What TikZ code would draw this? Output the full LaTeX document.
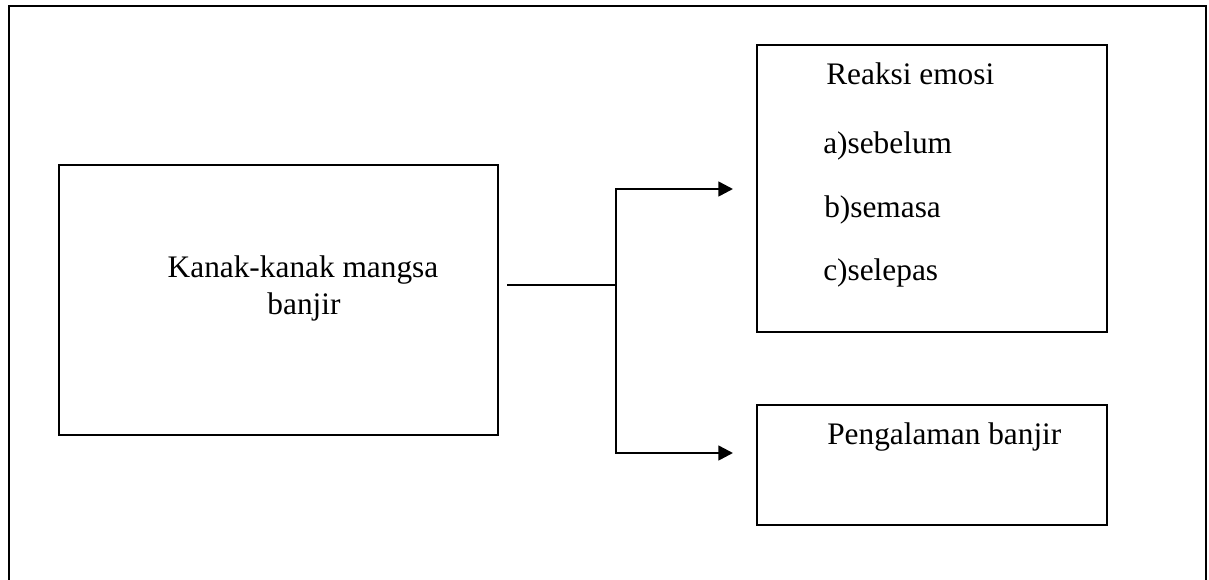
\documentclass[tikz,border=0pt]{standalone}
\usepackage{fontspec}
\setmainfont{Liberation Serif}
\usetikzlibrary{arrows.meta}
\begin{document}
\begin{tikzpicture}[x=0.75pt,y=-0.75pt,
  box/.style={draw,line width=1.5pt,inner sep=0pt,anchor=center},
  lbl/.style={inner sep=0pt,font=\fontsize{23.5}{28}\selectfont},
  conn/.style={line width=1.9pt},
  arr/.style={conn,-{Triangle[length=11pt,width=11pt]}}]
\useasboundingbox (0,0) rectangle (1209,579);
% outer frame (bottom edge lies outside the picture)
\draw[line width=1.5pt] (9,590) -- (9,6) -- (1206,6) -- (1206,590);
% boxes
\node[box,minimum width={439*0.75pt},minimum height={270*0.75pt}] (left) at (278.5,300) {};
\node[box,minimum width={350*0.75pt},minimum height={287*0.75pt}] (top) at (932,188.5) {};
\node[box,minimum width={350*0.75pt},minimum height={120*0.75pt}] (bot) at (932,465) {};
% texts
\node[lbl,anchor=base] (k1) at (303,277) {Kanak-kanak mangsa};
\node[lbl,anchor=base] (k2) at (304,314) {banjir};
\node[lbl,anchor=base west] (r0) at (826,84) {Reaksi emosi};
\node[lbl,anchor=base west] (r1) at (823,153) {a)sebelum};
\node[lbl,anchor=base west] (r2) at (824,217) {b)semasa};
\node[lbl,anchor=base west] (r3) at (823,280) {c)selepas};
\node[lbl,anchor=base west] (p) at (827,444) {Pengalaman banjir};
% connectors
\coordinate (s) at (507,285);
\coordinate (j) at (616,285);
\coordinate (jt) at (616,189);
\coordinate (jb) at (616,453);
\coordinate (tt) at (733,189);
\coordinate (tb) at (733,453);
\draw[conn] (s) -- (j);
\draw[arr] (j) -- (jt) -- (tt);
\draw[arr] (j) -- (jb) -- (tb);
\end{tikzpicture}
\end{document}
